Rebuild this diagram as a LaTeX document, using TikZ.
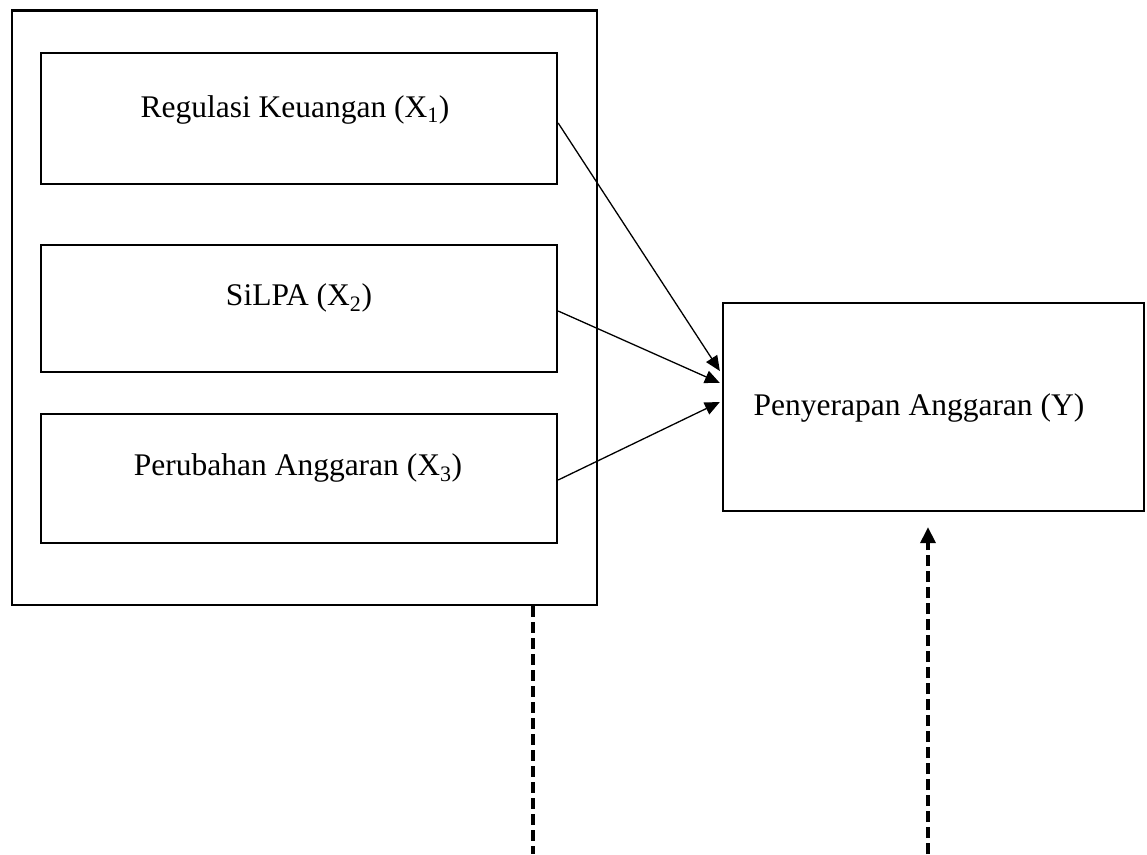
\documentclass[tikz,border=0pt]{standalone}
\usepackage{fontspec}
\setmainfont{Liberation Serif}
\usetikzlibrary{arrows.meta,calc}
\begin{document}
\begin{tikzpicture}[x=1pt,y=-1pt,
  box/.style={draw,line width=2.3pt,inner sep=0pt,rectangle},
  lbl/.style={inner sep=0pt,anchor=base,font=\fontsize{31.5}{38}\selectfont},
  thinarrow/.style={line width=1.3pt,-{Triangle[length=15pt,width=13pt]}},
  dashline/.style={line width=3.5pt,dash pattern=on 11pt off 5pt}]
\useasboundingbox (0,0) rectangle (1147,854);
\node[box,minimum width=585,minimum height=594.5] (grp) at (304.5,307.75) {};
\node[box,minimum width=516,minimum height=131] (b1) at (299,118.5) {};
\node[box,minimum width=516,minimum height=127] (b2) at (299,308.5) {};
\node[box,minimum width=516,minimum height=129] (b3) at (299,478.5) {};
\node[box,minimum width=421,minimum height=208] (yb) at (933.5,407) {};
\node[lbl] (t1) at (295,117) {Regulasi Keuangan (X\textsubscript{1})};
\node[lbl] (t2) at (299,305) {SiLPA (X\textsubscript{2})};
\node[lbl] (t3) at (298,475) {Perubahan Anggaran (X\textsubscript{3})};
\node[lbl] (t4) at (919,415) {Penyerapan Anggaran (Y)};
\draw[thinarrow] ([yshift=-4.5pt]b1.east) -- ([xshift=-2pt,yshift=36pt]yb.west);
\draw[thinarrow] ([yshift=-2.5pt]b2.east) -- ([xshift=-2pt,yshift=24pt]yb.west);
\draw[thinarrow] ([yshift=-1.5pt]b3.east) -- ([xshift=-2pt,yshift=5pt]yb.west);
\coordinate (lowL) at (533,854);
\coordinate (lowR) at (928,854);
\draw[dashline] (grp.south -| lowL) -- (lowL);
\draw[dashline,-{Triangle[length=16pt,width=15pt]}] (lowR) -- ([yshift=-15pt]yb.south -| lowR);
\end{tikzpicture}
\end{document}
